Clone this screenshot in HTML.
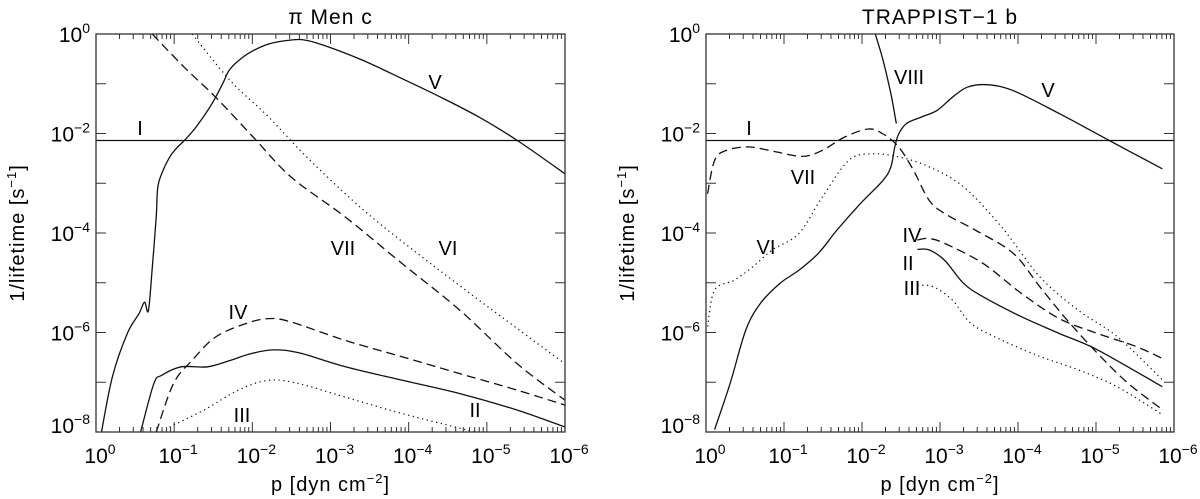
<!DOCTYPE html>
<html><head><meta charset="utf-8"><style>
body{margin:0;background:#fff;}
svg{display:block;font-family:"Liberation Sans",sans-serif;}
</style></head><body>
<svg id="chart" width="1200" height="499" viewBox="0 0 1200 499"></svg>
<script>
// Data: [log10 p, log10 rate]
const rateI = -2.14;
const leftV = [[-0.07,-8],[-0.21,-6.89],[-0.40,-6.02],[-0.55,-5.62],[-0.62,-5.39],[-0.67,-5.56],[-0.72,-4.69],[-0.77,-3.68],[-0.79,-3.08],[-0.84,-2.81],[-0.94,-2.48],[-1.04,-2.28],[-1.13,-2.14],[-1.28,-1.87],[-1.48,-1.41],[-1.62,-1.0],[-1.70,-0.74],[-1.82,-0.54],[-1.97,-0.37],[-2.21,-0.2],[-2.5,-0.12],[-2.7,-0.13],[-2.99,-0.27],[-3.43,-0.54],[-3.92,-0.9],[-4.41,-1.27],[-4.9,-1.67],[-5.39,-2.14],[-6,-2.81]];
const leftVII = [[-0.72,0],[-1.13,-0.67],[-1.53,-1.27],[-2.01,-2.07],[-2.5,-2.88],[-3.19,-3.68],[-3.92,-4.62],[-4.66,-5.56],[-5.39,-6.63],[-6,-7.36]];
const leftVI = [[-1.23,0],[-1.72,-0.94],[-2.21,-1.67],[-2.7,-2.48],[-3.43,-3.55],[-4.17,-4.48],[-4.9,-5.35],[-6,-6.63]];
const leftIV = [[-0.77,-8],[-0.99,-7.03],[-1.23,-6.56],[-1.53,-6.09],[-1.92,-5.82],[-2.21,-5.72],[-2.5,-5.79],[-3.19,-6.16],[-3.92,-6.49],[-4.66,-6.83],[-5.39,-7.16],[-6,-7.46]];
const leftII = [[-0.57,-8],[-0.74,-7.03],[-0.84,-6.86],[-1.09,-6.69],[-1.43,-6.69],[-1.72,-6.56],[-1.97,-6.43],[-2.26,-6.35],[-2.6,-6.41],[-3.19,-6.69],[-3.92,-6.96],[-4.66,-7.23],[-5.39,-7.56],[-6,-7.9]];
const leftIII = [[-0.94,-7.9],[-1.38,-7.56],[-1.82,-7.16],[-2.21,-6.96],[-2.6,-7.03],[-3.19,-7.3],[-3.92,-7.63],[-4.85,-8]];
const rightVIII = [[-2.17,0],[-2.27,-0.53],[-2.37,-1.2],[-2.44,-1.8]];
const rightV = [[-0.11,-7.95],[-0.31,-7.02],[-0.51,-5.95],[-0.7,-5.41],[-0.95,-5.01],[-1.19,-4.75],[-1.44,-4.41],[-1.68,-3.94],[-1.98,-3.41],[-2.27,-2.94],[-2.37,-2.67],[-2.42,-2.27],[-2.47,-2.01],[-2.57,-1.8],[-2.76,-1.67],[-2.96,-1.54],[-3.16,-1.27],[-3.35,-1.07],[-3.6,-1.02],[-3.94,-1.14],[-4.53,-1.6],[-5.17,-2.14],[-5.85,-2.71]];
const rightVII = [[-0.02,-3.21],[-0.11,-2.54],[-0.26,-2.34],[-0.55,-2.27],[-0.9,-2.37],[-1.24,-2.46],[-1.49,-2.34],[-1.78,-2.07],[-2.08,-1.91],[-2.27,-2.01],[-2.47,-2.27],[-2.66,-2.74],[-2.86,-3.34],[-3.06,-3.61],[-3.45,-3.94],[-3.94,-4.41],[-4.28,-5.08],[-4.63,-5.75],[-5.02,-6.42],[-5.41,-7.02],[-5.85,-7.55]];
const rightVI = [[-0.02,-5.88],[-0.11,-5.15],[-0.36,-4.95],[-0.6,-4.68],[-0.85,-4.34],[-1.19,-4.01],[-1.49,-3.28],[-1.83,-2.54],[-2.12,-2.41],[-2.47,-2.47],[-2.86,-2.67],[-3.3,-3.07],[-3.79,-3.88],[-4.28,-4.88],[-4.77,-5.55],[-5.27,-6.08],[-5.85,-6.95]];
const rightIV = [[-2.71,-4.14],[-2.86,-4.11],[-3.06,-4.21],[-3.55,-4.61],[-4.04,-5.21],[-4.53,-5.72],[-5.02,-6.02],[-5.51,-6.28],[-5.85,-6.52]];
const rightII = [[-2.71,-4.33],[-2.86,-4.34],[-3.06,-4.55],[-3.3,-5.01],[-3.55,-5.28],[-4.04,-5.68],[-4.53,-6.02],[-5.02,-6.35],[-5.85,-7.09]];
const rightIII = [[-2.71,-5.05],[-2.91,-5.08],[-3.16,-5.35],[-3.4,-5.82],[-3.79,-6.15],[-4.28,-6.48],[-4.77,-6.75],[-5.27,-7.09],[-5.85,-7.65]];
const xTickExp = [0,-1,-2,-3,-4,-5,-6];
const yTickExp = [0,-2,-4,-6,-8];

const NS="http://www.w3.org/2000/svg";
const svg=document.getElementById('chart');
function mk(tag,attrs,parent,name){const e=document.createElementNS(NS,tag);for(const k in attrs)e.setAttribute(k,attrs[k]);


(parent||svg).appendChild(e);return e;}
function smooth(P){let d='M'+P[0][0].toFixed(1)+','+P[0][1].toFixed(1);
  for(let i=0;i<P.length-1;i++){const p0=P[Math.max(i-1,0)],p1=P[i],p2=P[i+1],p3=P[Math.min(i+2,P.length-1)];
    const c1=[p1[0]+(p2[0]-p0[0])/6,p1[1]+(p2[1]-p0[1])/6],c2=[p2[0]-(p3[0]-p1[0])/6,p2[1]-(p3[1]-p1[1])/6];
    d+=' C'+c1.map(v=>v.toFixed(1)).join(',')+' '+c2.map(v=>v.toFixed(1)).join(',')+' '+p2[0].toFixed(1)+','+p2[1].toFixed(1);}
  return d;}

function panel(x0,x1,title,curves,labels,pname){
  const y0=34,y1=432;
  const g=mk('g',{},svg,pname);
  const X=v=>x0+(-v)/6*(x1-x0);
  const Y=v=>y0+(-v)/8*(y1-y0);
  for(let d=0;d<6;d++){for(let m=1;m<10;m++){const lv=-d-Math.log10(m);const x=X(lv);const L=m===1?10:5;
    mk('line',{x1:x,x2:x,y1:y1,y2:y1-L,stroke:'#333','stroke-width':1},g,'x-tick');
    mk('line',{x1:x,x2:x,y1:y0,y2:y0+L,stroke:'#333','stroke-width':1},g,'x-tick-top');}}
  for(let d=0;d<=8;d++){const y=Y(-d);
    mk('line',{x1:x0,x2:x0+10,y1:y,y2:y,stroke:'#333'},g,'y-tick');
    mk('line',{x1:x1,x2:x1-10,y1:y,y2:y,stroke:'#333'},g,'y-tick-right');}
  xTickExp.forEach(e=>{const t=mk('text',{x:X(e)+4,y:463,'font-size':21,'text-anchor':'middle'},g,'x-tick-label');
    t.innerHTML='10<tspan dy="-9" font-size="14">'+(e===0?'0':'−'+(-e))+'</tspan>';});
  yTickExp.forEach(e=>{const t=mk('text',{x:x0-6,y:Y(e)+(e===-8?1:8),'font-size':21,'text-anchor':'end'},g,'y-tick-label');
    t.innerHTML='10<tspan dy="-9" font-size="14">'+(e===0?'0':'−'+(-e))+'</tspan>';});
  const xt=mk('text',{x:(x0+x1)/2,y:491,'font-size':20,'text-anchor':'middle','letter-spacing':1},g,'x-axis-title');
  xt.innerHTML='p  [dyn  cm<tspan dy="-8" font-size="13">−2</tspan><tspan dy="8">]</tspan>';
  const yt=mk('text',{x:0,y:0,'font-size':20,'text-anchor':'middle','letter-spacing':1,transform:`translate(${x0-72},${(y0+y1)/2}) rotate(-90)`},g,'y-axis-title');
  yt.innerHTML='1/lifetime  [s<tspan dy="-8" font-size="13">−1</tspan><tspan dy="8">]</tspan>';
  const tt=mk('text',{x:(x0+x1)/2,y:24,'font-size':21,'text-anchor':'middle','letter-spacing':1},g,'panel-title');tt.textContent=title;
  const cid='clip'+pname;const cp=mk('clipPath',{id:cid},svg,'clip');mk('rect',{x:x0,y:y0,width:x1-x0,height:y1-y0},cp,'clip-rect');
  const cg=mk('g',{'clip-path':`url(#${cid})`},g,'series-group');
  mk('line',{x1:x0,x2:x1,y1:Y(rateI),y2:Y(rateI),stroke:'#111','stroke-width':1.3},cg,'series-I');
  curves.forEach(c=>{const P=c.d.map(p=>[X(p[0]),Y(p[1])]);
    const a={d:smooth(P),fill:'none',stroke:'#111','stroke-width':1.3};
    if(c.s==='dash')a['stroke-dasharray']='9,5';
    if(c.s==='dot'){a['stroke-dasharray']='1.3,3.5';a['stroke-width']=1.2;}
    mk('path',a,cg,'series-'+c.n);});
  mk('rect',{x:x0,y:y0,width:x1-x0,height:y1-y0,fill:'none',stroke:'#333','stroke-width':1.3},g,'plot-frame');
  labels.forEach(l=>{const t=mk('text',{x:l[1],y:l[2]+8,'font-size':20,'text-anchor':'middle'},g,'label-'+l[0]);t.textContent=l[0];});
}
panel(96,565,'π  Men  c',[{n:'V',d:leftV,s:'solid'},{n:'VII',d:leftVII,s:'dash'},{n:'VI',d:leftVI,s:'dot'},{n:'IV',d:leftIV,s:'dash'},{n:'II',d:leftII,s:'solid'},{n:'III',d:leftIII,s:'dot'}],
 [['I',140,127],['V',435,81],['VII',343,247],['VI',448,247],['IV',238,311],['III',242,414],['II',475,409]],'left');
panel(706,1174,'TRAPPIST−1  b',[{n:'VIII',d:rightVIII,s:'solid'},{n:'V',d:rightV,s:'solid'},{n:'VII',d:rightVII,s:'dash'},{n:'VI',d:rightVI,s:'dot'},{n:'IV',d:rightIV,s:'dash'},{n:'II',d:rightII,s:'solid'},{n:'III',d:rightIII,s:'dot'}],
 [['I',749,127],['VIII',909,76],['V',1048,89],['VII',803,176],['VI',766,246],['IV',912,234],['II',908,262],['III',912,287]],'right');
</script>
</body></html>
